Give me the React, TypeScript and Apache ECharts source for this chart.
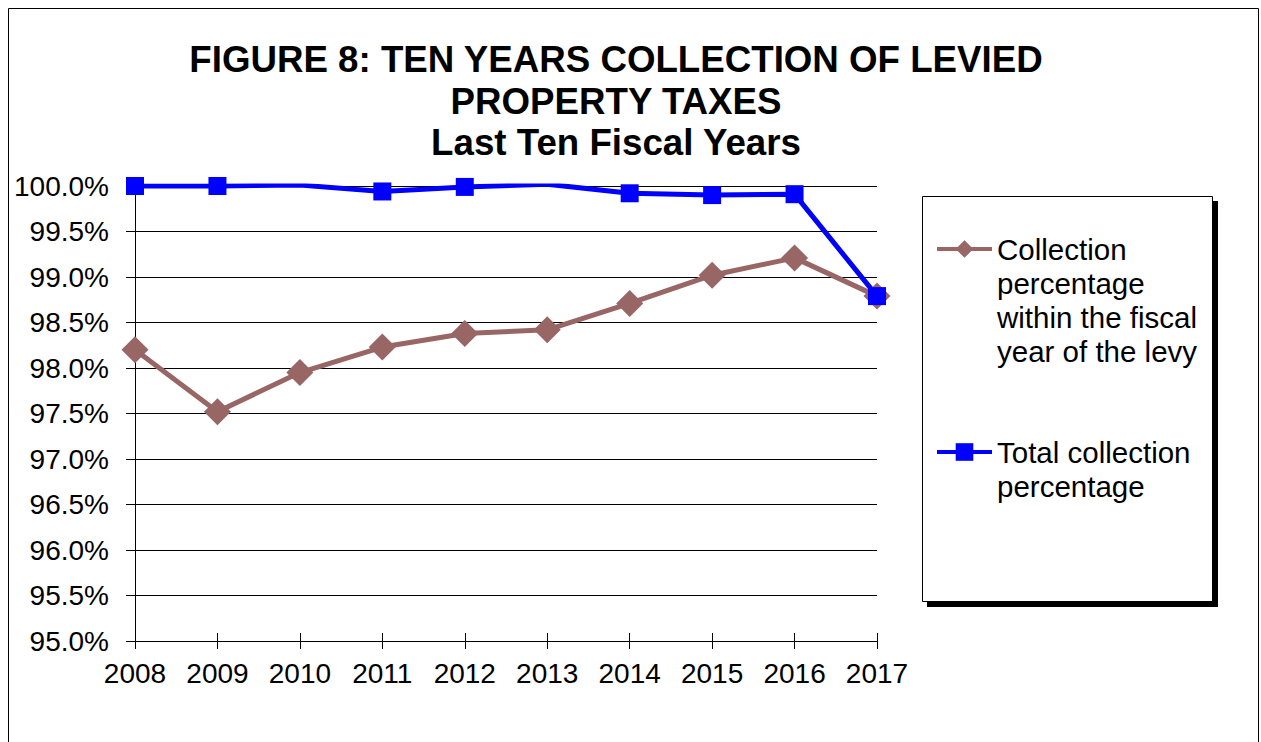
import React, { useEffect, useRef } from "react";
import * as echarts from "echarts";

const years = ["2008", "2009", "2010", "2011", "2012", "2013", "2014", "2015", "2016", "2017"];
const withinFiscalYear = [98.2, 97.52, 97.95, 98.23, 98.38, 98.42, 98.71, 99.02, 99.21, 98.79];
const totalCollection = [100.0, 100.0, 100.01, 99.94, 99.99, 100.02, 99.92, 99.9, 99.91, 98.79];
const seriesNames = [
  "Collection percentage within the fiscal year of the levy",
  "Total collection percentage",
];
const legendFirstLines = ["Collection", "Total collection"];
const legendRestLines = ["percentage\nwithin the fiscal\nyear of the levy", "percentage"];
const titleText = "FIGURE 8: TEN YEARS COLLECTION OF LEVIED\nPROPERTY TAXES\nLast Ten Fiscal Years";
const yMin = 95;
const yMax = 100;
const yStep = 0.5;

const FONT = "'Liberation Sans', Arial, sans-serif";
const LEGEND_FS = 29.5;

export default function App() {
  const ref = useRef<HTMLDivElement>(null);
  useEffect(() => {
    if (!ref.current) return;
    const chart = echarts.init(ref.current, undefined, { renderer: "svg" });
    const axisBlack = { color: "#000", width: 1 };
    chart.setOption({
      animation: false,
      backgroundColor: "#fff",
      textStyle: { fontFamily: FONT },
      title: {
        text: titleText,
        left: 616,
        top: 39,
        padding: 0,
        textAlign: "center",
        textStyle: {
          fontFamily: FONT,
          fontSize: 36.7,
          fontWeight: "bold",
          color: "#000",
          lineHeight: 41.5,
        },
      },
      grid: { left: 135, right: 384, top: 186, bottom: 101 },
      xAxis: [
        {
          type: "category",
          data: years,
          boundaryGap: false,
          axisLine: { lineStyle: axisBlack },
          axisTick: { show: true, length: 8, lineStyle: axisBlack },
          axisLabel: { color: "#000", fontSize: 28, fontFamily: FONT, margin: 18 },
          splitLine: { show: false },
        },
        {
          type: "category",
          data: years,
          position: "bottom",
          boundaryGap: false,
          axisLine: { show: false },
          axisTick: { show: true, inside: true, length: 8, lineStyle: axisBlack },
          axisLabel: { show: false },
          splitLine: { show: false },
        },
      ],
      yAxis: {
        type: "value",
        min: yMin,
        max: yMax,
        interval: yStep,
        axisLine: { show: true, lineStyle: axisBlack },
        axisTick: { show: true, length: 9, lineStyle: axisBlack },
        splitLine: { show: true, lineStyle: axisBlack },
        axisLabel: {
          color: "#000",
          fontSize: 28,
          fontFamily: FONT,
          margin: 26,
          formatter: (v: number) => v.toFixed(1) + "%",
        },
      },
      legend: {
        orient: "vertical",
        left: 935,
        top: 232,
        padding: 0,
        itemWidth: 55,
        itemHeight: 22,
        itemGap: 169,
        data: seriesNames,
        lineStyle: { width: 4 },
        formatter: (name: string) => legendFirstLines[seriesNames.indexOf(name)],
        textStyle: { color: "#000", fontSize: LEGEND_FS, fontFamily: FONT, lineHeight: 34 },
      },
      graphic: [
        {
          type: "rect",
          z: 0,
          shape: { x: 8.5, y: 8.5, width: 1250, height: 800 },
          style: { fill: "none", stroke: "#000", lineWidth: 1 },
        },
        {
          type: "rect",
          z: 0,
          shape: { x: 927, y: 201, width: 291, height: 406 },
          style: { fill: "#000" },
        },
        {
          type: "rect",
          z: 1,
          shape: { x: 922.5, y: 196.5, width: 290, height: 405 },
          style: { fill: "#fff", stroke: "#000", lineWidth: 1 },
        },
        {
          type: "text",
          z: 5,
          x: 997,
          y: 266,
          style: {
            text: legendRestLines[0],
            font: `${LEGEND_FS}px ${FONT}`,
            fill: "#000",
            lineHeight: 34,
            verticalAlign: "top",
          },
        },
        {
          type: "text",
          z: 5,
          x: 997,
          y: 469,
          style: {
            text: legendRestLines[1],
            font: `${LEGEND_FS}px ${FONT}`,
            fill: "#000",
            lineHeight: 34,
            verticalAlign: "top",
          },
        },
      ],
      series: [
        {
          name: seriesNames[0],
          type: "line",
          data: withinFiscalYear,
          symbol: "diamond",
          symbolSize: 27,
          lineStyle: { color: "#996666", width: 5 },
          itemStyle: { color: "#996666" },
        },
        {
          name: seriesNames[1],
          type: "line",
          data: totalCollection.map((v) => (v > yMax ? { value: v, symbol: "none" } : v)),
          symbol: "rect",
          symbolSize: 18,
          lineStyle: { color: "#0000ff", width: 5 },
          itemStyle: { color: "#0000ff" },
        },
      ],
    });
    return () => chart.dispose();
  }, []);
  return (
    <div
      ref={ref}
      style={{ position: "fixed", left: 0, top: 0, width: 1261, height: 742 }}
    />
  );
}
